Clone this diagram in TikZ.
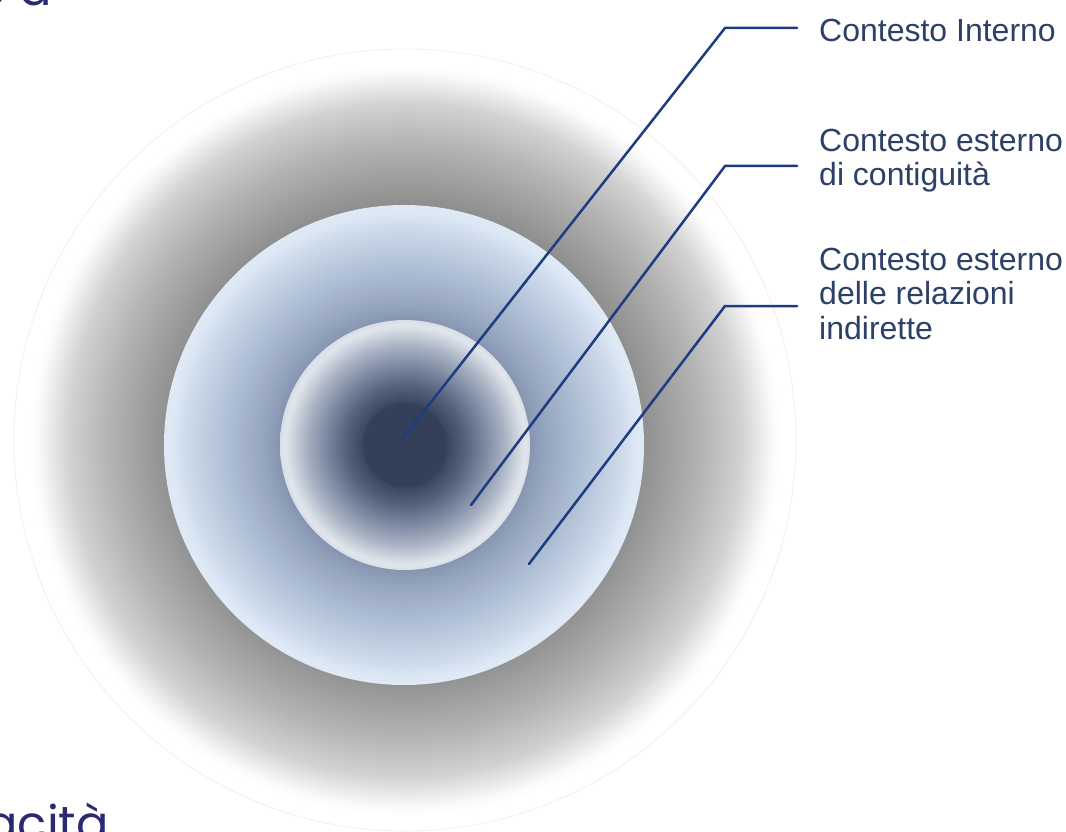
\documentclass[tikz,border=0pt]{standalone}
\usepackage{fontspec}
\setmainfont{Liberation Sans}
\newfontfamily\slidefont{Poppins}
\definecolor{linkblue}{HTML}{1E3C82}
\definecolor{labeltext}{HTML}{2D4068}
\definecolor{slidetext}{HTML}{2A2A72}
\definecolor{corefill}{HTML}{34405A}
\definecolor{haloA}{HTML}{8F8F8F}
\definecolor{haloB}{HTML}{B4B4B4}
\definecolor{haloC}{HTML}{D2D2D2}
\definecolor{haloD}{HTML}{ECECEC}
\definecolor{haloE}{HTML}{FBFBFB}
\definecolor{outerA}{HTML}{8595B1}
\definecolor{outerB}{HTML}{95A4BD}
\definecolor{outerC}{HTML}{B0C0D6}
\definecolor{outerD}{HTML}{CFDCEC}
\definecolor{outerE}{HTML}{DDE8F5}
\definecolor{outerF}{HTML}{DFEAF6}
\definecolor{midA}{HTML}{2E3A52}
\definecolor{midB}{HTML}{3A465F}
\definecolor{midC}{HTML}{55627B}
\definecolor{midD}{HTML}{7D8AA2}
\definecolor{midE}{HTML}{AAB4C4}
\definecolor{midF}{HTML}{CDD3DD}
\definecolor{midG}{HTML}{E2E6EC}
\definecolor{midH}{HTML}{D8DDE6}
\pgfdeclareradialshading{haloshade}{\pgfpoint{0bp}{0bp}}{color(0bp)=(haloA); color(15.19bp)=(haloA); color(18.99bp)=(haloB); color(21.52bp)=(haloC); color(22.78bp)=(haloD); color(23.54bp)=(haloE); color(24.05bp)=(white); color(25bp)=(white); color(50bp)=(white)}
\pgfdeclareradialshading{outershade}{\pgfpoint{0bp}{0bp}}{color(0bp)=(outerA); color(13bp)=(outerA); color(14.6bp)=(outerB); color(18.75bp)=(outerC); color(22.9bp)=(outerD); color(24.15bp)=(outerE); color(25bp)=(outerF); color(50bp)=(outerF)}
\pgfdeclareradialshading{midshade}{\pgfpoint{0bp}{0bp}}{color(0bp)=(midA); color(8.4bp)=(midB); color(12bp)=(midC); color(16bp)=(midD); color(20bp)=(midE); color(22.4bp)=(midF); color(24bp)=(midG); color(25bp)=(midH); color(50bp)=(midH)}
\tikzset{
  ring/.style={circle, inner sep=0pt, minimum size=#1},
  leader/.style={linkblue, line width=2.5pt, line cap=round},
  ctxlabel/.style={anchor=north west, inner sep=0pt, align=left, text=labeltext, font=\fontsize{32}{34.5}\selectfont},
  slideword/.style={anchor=base east, inner sep=0pt, text=slidetext, font=\slidefont\fontsize{48}{56}\selectfont}
}

\begin{document}
\begin{tikzpicture}[x=1pt,y=-1pt]
\useasboundingbox (0,0) rectangle (1066,832);
\clip (0,0) rectangle (1066,832);
\fill[white] (0,0) rectangle (1066,832);
\node[ring=782pt, shading=haloshade, draw=black!5, line width=1pt] (halo) at (405,440) {};
\node[ring=480pt, shading=outershade] (outer) at (404,445) {};
\node[ring=250pt, shading=midshade] (middle) at (405,445) {};
\node[ring=84pt, fill=corefill] (core) at (405,445) {};
\node[slideword] (topword) at (52,6) {e a};
\node[slideword] (bottomword) at (109,840) {acità};
\node[ctxlabel] (lab1) at (819,18.5) {Contesto Interno};
\node[ctxlabel] (lab2) at (819,128.5) {Contesto esterno\\di contiguità};
\node[ctxlabel] (lab3) at (819,247.5) {Contesto esterno\\delle relazioni\\indirette};
\coordinate (tip1) at (402,439);
\coordinate (bend1) at (725,28);
\coordinate (end1) at (797,28);
\coordinate (tip2) at (471,505);
\coordinate (bend2) at (725,166);
\coordinate (end2) at (797,166);
\coordinate (tip3) at (529,564);
\coordinate (bend3) at (725,306);
\coordinate (end3) at (797,306);
\draw[leader] (tip1) -- (bend1) -- (end1);
\draw[leader] (tip2) -- (bend2) -- (end2);
\draw[leader] (tip3) -- (bend3) -- (end3);
\end{tikzpicture}
\end{document}
